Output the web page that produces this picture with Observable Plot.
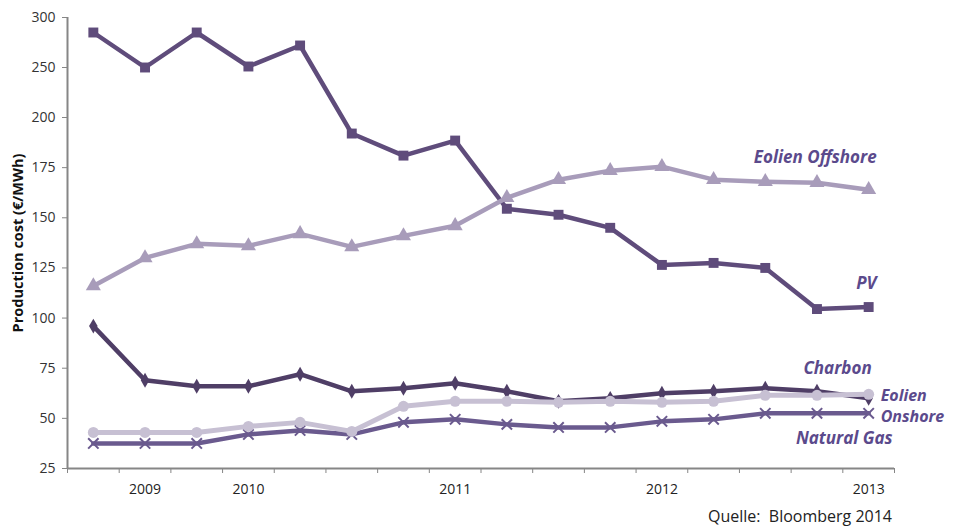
<!DOCTYPE html>
<html>
<head>
<meta charset="utf-8">
<script src="https://cdn.jsdelivr.net/npm/d3@7"></script>
<script src="https://cdn.jsdelivr.net/npm/@observablehq/plot@0.6"></script>
<style>
  body { margin: 0; background: #fff; font-family: "Open Sans", sans-serif; }
  #caption { width: 955px; box-sizing: border-box; text-align: right; padding-right: 63px;
             font-size: 16px; color: #222; height: 29px; line-height: 32px; white-space: pre; }
</style>
</head>
<body>
<div id="chart"></div>
<div id="caption">Quelle:  Bloomberg 2014</div>
<script>
// Periods (16 observations, indexed)
const periods = [0, 1, 2, 3, 4, 5, 6, 7, 8, 9, 10, 11, 12, 13, 14, 15];
const yearTickIndex = [1, 3, 7, 11, 15];
const yearLabels = ["2009", "2010", "2011", "2012", "2013"];
const yTicks = [25, 50, 75, 100, 125, 150, 175, 200, 250, 300];

// Series values (€/MWh)
const pv       = [285, 250, 285, 251, 272, 192, 181, 188.5, 154.5, 151.5, 145, 126.5, 127.5, 125, 104.5, 105.5];
const offshore = [116, 130, 137, 136, 142, 135.5, 141, 146, 160, 169, 173.5, 175.5, 169, 168, 167.5, 164];
const charbon  = [96, 69, 66, 66, 72, 63.5, 65, 67.5, 63.5, 58.5, 60, 62.5, 63.5, 65, 63.5, 60];
const onshore  = [43, 43, 43, 46, 48, 43.5, 56, 58.5, 58.5, 58, 58.5, 58, 58.5, 61.5, 61.5, 62];
const gas      = [37.5, 37.5, 37.5, 42, 44, 42, 48, 49.5, 47, 45.5, 45.5, 48.5, 49.5, 52.5, 52.5, 52.5];

const rows = (arr) => periods.map((i) => ({i, value: arr[i]}));
const last = (arr) => [{i: periods[periods.length - 1], value: arr[arr.length - 1]}];

const C = {
  pv: "#5f4c7b",
  offshore: "#a89cba",
  charbon: "#4f3e66",
  onshore: "#c7c0d3",
  gas: "#6a5a8e",
  label: "#5b4a8c",
  axis: "#868686"
};

const labelStyle = {fontSize: 17, fontWeight: "bold", fontStyle: "italic", fill: C.label};

const chart = Plot.plot({
  width: 955,
  height: 500,
  marginLeft: 67,
  marginRight: 61,
  marginTop: 17,
  marginBottom: 32,
  style: {fontFamily: "'Open Sans', sans-serif", fontSize: "14px", color: "#333", background: "#fff"},
  x: {type: "linear", domain: [-0.5, 15.5], axis: null},
  y: {type: "linear", domain: [25, 200, 300], range: [468, 117, 17], axis: null},
  marks: [
    Plot.axisY(yTicks, {tickSize: 5, tickPadding: 7, stroke: C.axis, fill: "#333", label: null}),
    Plot.axisX(d3.range(-0.5, 16, 1), {tickSize: 5, tickFormat: () => "", stroke: C.axis, label: null}),
    Plot.axisX(yearTickIndex, {tickSize: 0, tickPadding: 16, fill: "#222",
      tickFormat: (d) => yearLabels[yearTickIndex.indexOf(d)], label: null}),
    Plot.ruleX([-0.5], {stroke: C.axis, strokeWidth: 2}),
    Plot.ruleY([25], {stroke: C.axis, strokeWidth: 2}),
    Plot.text(["Production cost (€/MWh)"], {frameAnchor: "left", textAnchor: "middle", rotate: -90, dx: -49,
      fontWeight: "bold", fontSize: 14.5, fill: "#111"}),

    // PV
    Plot.lineY(rows(pv), {x: "i", y: "value", stroke: C.pv, strokeWidth: 4.5}),
    Plot.dot(rows(pv), {x: "i", y: "value", symbol: "square", r: 5.6, fill: C.pv}),
    // Eolien Offshore
    Plot.lineY(rows(offshore), {x: "i", y: "value", stroke: C.offshore, strokeWidth: 4.5}),
    Plot.dot(rows(offshore), {x: "i", y: "value", symbol: "triangle", r: 5.6, fill: C.offshore}),
    // Charbon
    Plot.lineY(rows(charbon), {x: "i", y: "value", stroke: C.charbon, strokeWidth: 4.5}),
    Plot.dot(rows(charbon), {x: "i", y: "value", symbol: "diamond", r: 4.5, fill: C.charbon}),
    // Natural Gas
    Plot.lineY(rows(gas), {x: "i", y: "value", stroke: C.gas, strokeWidth: 4.5}),
    Plot.dot(rows(gas), {x: "i", y: "value", symbol: "times", r: 4.8, stroke: C.gas, strokeWidth: 2}),
    // Eolien Onshore
    Plot.lineY(rows(onshore), {x: "i", y: "value", stroke: C.onshore, strokeWidth: 5}),
    Plot.dot(rows(onshore), {x: "i", y: "value", symbol: "circle", r: 5.5, fill: C.onshore}),

    // Series labels
    Plot.text(last(offshore), {x: "i", y: "value", text: () => "Eolien Offshore", textAnchor: "end", dx: 8, dy: -32, ...labelStyle}),
    Plot.text(last(pv), {x: "i", y: "value", text: () => "PV", textAnchor: "end", dx: 8, dy: -23, ...labelStyle}),
    Plot.text(last(charbon), {x: "i", y: "value", text: () => "Charbon", textAnchor: "end", dx: 3, dy: -30, ...labelStyle}),
    Plot.text(last(onshore), {x: "i", y: "value", text: () => "Eolien\nOnshore", textAnchor: "start",
      lineAnchor: "middle", lineHeight: 1.3, dx: 12, dy: 10.5, ...labelStyle, fontSize: 16}),
    Plot.text(last(gas), {x: "i", y: "value", text: () => "Natural Gas", textAnchor: "end", dx: 24, dy: 25, ...labelStyle})
  ]
});
document.getElementById("chart").appendChild(chart);
</script>
</body>
</html>
